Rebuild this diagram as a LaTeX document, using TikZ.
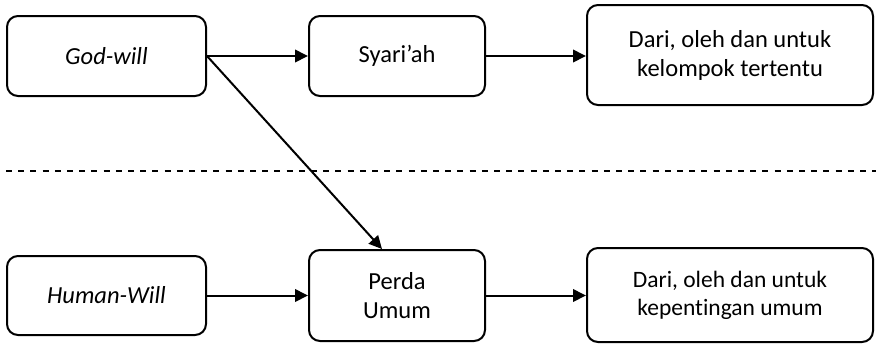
\documentclass[tikz,border=0pt]{standalone}
\usepackage{fontspec}
\setmainfont{Carlito}[Ligatures={NoCommon}]
\usetikzlibrary{arrows.meta}
\begin{document}
\begin{tikzpicture}[x=1pt,y=-1pt,
  box/.style={draw=black, line width=2pt, rounded corners=11pt, align=center,
    font=\fontsize{24.5}{29}\selectfont, inner sep=0pt},
  conn/.style={line width=2pt, -{Triangle[length=13pt,width=12.5pt]}},
  sep/.style={line width=2pt, dash pattern=on 6pt off 6.2pt}]
\useasboundingbox (0,0) rectangle (876,343);
\node[box, minimum width=199pt, minimum height=80pt] (god) at (106.5,56) {\itshape God-will};
\node[box, minimum width=176pt, minimum height=80pt] (syar) at (397,56) {Syari’ah};
\node[box, minimum width=286pt, minimum height=100pt] (kel) at (730,55) {Dari, oleh dan untuk\\kelompok tertentu};
\node[box, minimum width=199pt, minimum height=79pt] (hum) at (106.5,295.5) {\itshape Human-Will};
\node[box, minimum width=176pt, minimum height=91pt] (perda) at (397,295.5) {Perda\\Umum};
\node[box, minimum width=286pt, minimum height=94pt, font=\fontsize{23.5}{28}\selectfont] (kep) at (730,295) {Dari, oleh dan untuk\\kepentingan umum};
\coordinate (dl) at (6,171);
\coordinate (dr) at (876,171);
\draw[sep] (dl) -- (dr);
\draw[conn] (god.east) -- (syar.west);
\draw[conn] (syar.east) -- (syar.east -| kel.west);
\draw[conn] (hum.east) -- (hum.east -| perda.west);
\draw[conn] (perda.east) -- (perda.east -| kep.west);
\draw[conn] (god.east) -- ([xshift=-15pt]perda.north);
\end{tikzpicture}
\end{document}
